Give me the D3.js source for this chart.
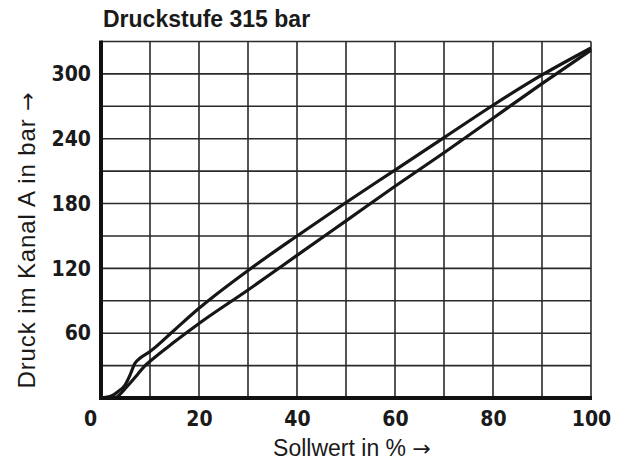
<!DOCTYPE html>
<html>
<head>
<meta charset="utf-8">
<script src="https://cdn.jsdelivr.net/npm/d3@7"></script>
<style>
  body { margin: 0; background: #fff; }
  svg { display: block; }
  .tick text { font-family: "Liberation Sans Narrow", "DejaVu Sans Condensed", "Liberation Sans", sans-serif; font-weight: bold; }
</style>
</head>
<body>
<svg id="chart" width="621" height="464"></svg>
<script>
const svg = d3.select('#chart')

// Sollwert in % (x) and pressure in bar (y) for both curves
const upperX = [0, 2.2, 3.5, 4.9, 5.9, 6.9, 8, 10, 15, 20, 30, 40, 50, 60, 70, 80, 90, 100]
const upperY = [0, 2, 6, 12, 21, 32, 37, 43, 63, 83, 118, 150, 181, 211, 241, 271, 299, 324]
const lowerX = [0, 3, 4, 5, 7.5, 9, 10, 15, 20, 30, 40, 50, 60, 70, 80, 90, 100]
const lowerY = [0, 0.5, 4, 9, 22, 30, 34, 52, 69, 100, 132, 164, 196, 227, 259, 291, 322]

const xTicks = [0, 20, 40, 60, 80, 100]
const yTicks = [60, 120, 180, 240, 300]
const xGrid = d3.range(10, 101, 10)
const yGrid = d3.range(30, 331, 30)

const plotLeft = 101, plotRight = 591, plotTop = 41.5, plotBottom = 398

const x = d3.scaleLinear().domain([0, 100]).range([plotLeft, plotRight])
const y = d3.scaleLinear().domain([0, 330]).range([plotBottom, plotTop])

// grid
svg.append('g')
  .selectAll('line')
  .data(xGrid)
  .join('line')
    .attr('x1', d => x(d)).attr('x2', d => x(d))
    .attr('y1', y(0)).attr('y2', y(330))
    .attr('stroke', '#2a2a2a').attr('stroke-width', 1.6)

svg.append('g')
  .selectAll('line')
  .data(yGrid)
  .join('line')
    .attr('x1', x(0)).attr('x2', x(100))
    .attr('y1', d => y(d)).attr('y2', d => y(d))
    .attr('stroke', '#2a2a2a').attr('stroke-width', 1.6)

// curves
const line = d3.line()
  .x(d => x(d[0]))
  .y(d => y(d[1]))
  .curve(d3.curveMonotoneX)

svg.append('path')
  .datum(d3.zip(upperX, upperY))
  .attr('fill', 'none')
  .attr('stroke', '#161616')
  .attr('stroke-width', 3.2)
  .attr('stroke-linejoin', 'round')
  .attr('d', line)

svg.append('path')
  .datum(d3.zip(lowerX, lowerY))
  .attr('fill', 'none')
  .attr('stroke', '#161616')
  .attr('stroke-width', 3.2)
  .attr('stroke-linejoin', 'round')
  .attr('d', line)

// thick axes
svg.append('line')
  .attr('x1', x(0)).attr('x2', x(0))
  .attr('y1', y(330) - 1).attr('y2', y(0) + 2)
  .attr('stroke', '#111').attr('stroke-width', 4)
svg.append('line')
  .attr('x1', x(0) - 2).attr('x2', x(100) + 1)
  .attr('y1', y(0)).attr('y2', y(0))
  .attr('stroke', '#111').attr('stroke-width', 4)

// tick labels
const xAxis = svg.append('g')
  .attr('transform', 'translate(0,' + plotBottom + ')')
  .call(d3.axisBottom(x).tickValues(xTicks).tickSize(0).tickPadding(13))
xAxis.select('.domain').remove()
xAxis.selectAll('text')
  .attr('font-size', 21)
  .attr('fill', '#1a1a1a')
  .attr('dx', d => d === 0 ? -11 : 0)

const yAxis = svg.append('g')
  .attr('transform', 'translate(' + plotLeft + ',0)')
  .call(d3.axisLeft(y).tickValues(yTicks).tickSize(0).tickPadding(10))
yAxis.select('.domain').remove()
yAxis.selectAll('text')
  .attr('font-size', 21)
  .attr('fill', '#1a1a1a')

// titles
svg.append('text')
  .attr('x', 103).attr('y', 27)
  .attr('font-family', 'Liberation Sans, Arial, sans-serif')
  .attr('font-weight', 'bold')
  .attr('font-size', 23)
  .attr('fill', '#1a1a1a')
  .text('Druckstufe 315 bar')

const xLab = svg.append('text')
  .attr('x', 352).attr('y', 456)
  .attr('text-anchor', 'middle')
  .attr('font-family', 'Liberation Sans, Arial, sans-serif')
  .attr('font-size', 23)
  .attr('fill', '#1a1a1a')
xLab.append('tspan').text('Sollwert in % ')
xLab.append('tspan').attr('font-family', 'DejaVu Sans').attr('font-size', 22).text('→')

const yLab = svg.append('text')
  .attr('transform', 'translate(35,240) rotate(-90)')
  .attr('text-anchor', 'middle')
  .attr('font-family', 'Liberation Sans, Arial, sans-serif')
  .attr('font-size', 24)
  .attr('letter-spacing', 0.9)
  .attr('fill', '#1a1a1a')
yLab.append('tspan').text('Druck im Kanal A in bar ')
yLab.append('tspan').attr('font-family', 'DejaVu Sans').attr('font-size', 22).text('→')
</script>
</body>
</html>
